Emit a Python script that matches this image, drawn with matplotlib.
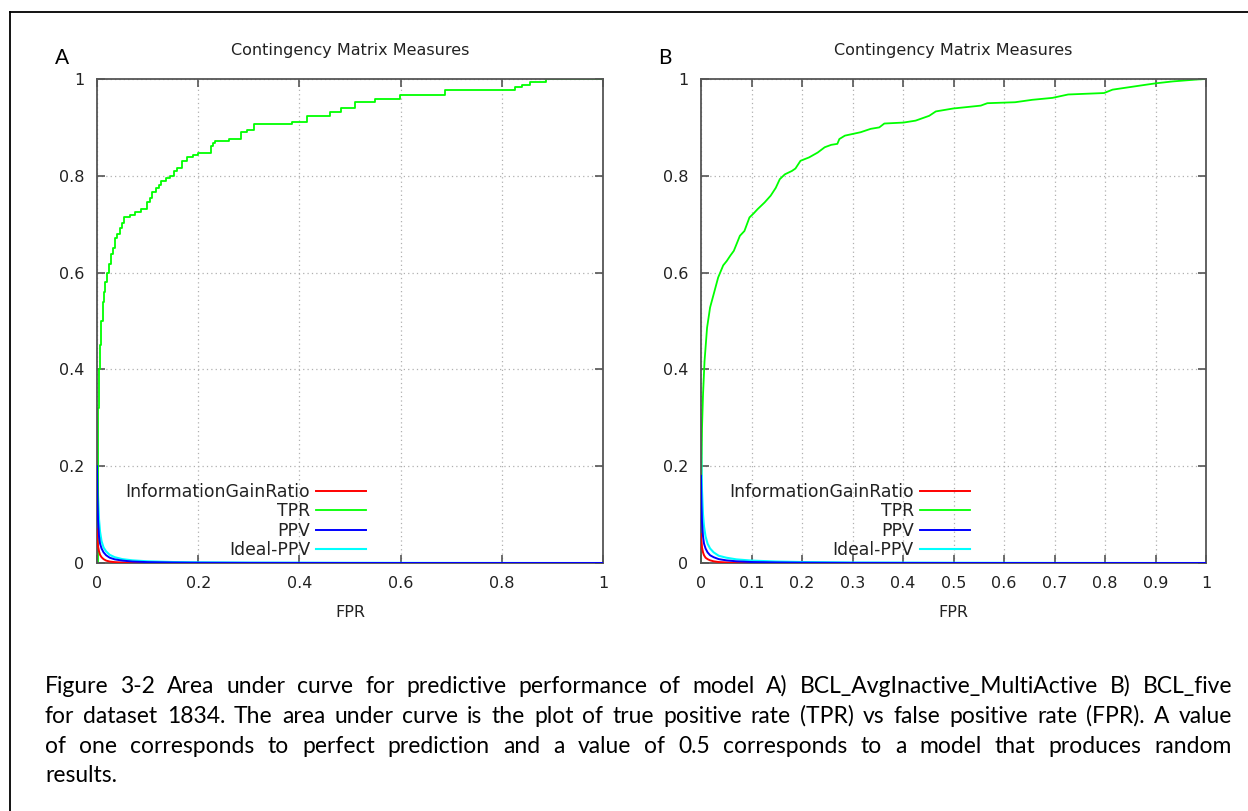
import matplotlib
matplotlib.use("Agg")
import matplotlib.pyplot as plt
from matplotlib.lines import Line2D
import numpy as np

# ---------------- data ----------------
panel_letters = ["A", "B"]
title_text = "Contingency Matrix Measures"
xlabel_text = "FPR"
series_names = ["InformationGainRatio", "TPR", "PPV", "Ideal-PPV"]
series_colors = ["#ff0000", "#00ff00", "#0000ff", "#00ffff"]

xticks_a = [0, 0.2, 0.4, 0.6, 0.8, 1]
xticklabels_a = ["0", "0.2", "0.4", "0.6", "0.8", "1"]
xticks_b = [0, 0.1, 0.2, 0.3, 0.4, 0.5, 0.6, 0.7, 0.8, 0.9, 1]
xticklabels_b = ["0", "0.1", "0.2", "0.3", "0.4", "0.5", "0.6", "0.7", "0.8", "0.9", "1"]
yticks = [0, 0.2, 0.4, 0.6, 0.8, 1]
yticklabels = ["0", "0.2", "0.4", "0.6", "0.8", "1"]

# Panel A TPR (step ROC) : (FPR, TPR)
tpr_a = [(0, 0), (0.001, 0.25), (0.002, 0.32), (0.004, 0.40), (0.006, 0.45),
         (0.0085, 0.50), (0.011, 0.54), (0.013, 0.56), (0.016, 0.58), (0.020, 0.60),
         (0.024, 0.617), (0.028, 0.638), (0.031, 0.650), (0.036, 0.672), (0.040, 0.680),
         (0.046, 0.693), (0.050, 0.703), (0.054, 0.714), (0.066, 0.719), (0.075, 0.726),
         (0.087, 0.731), (0.099, 0.745), (0.104, 0.755), (0.108, 0.766), (0.117, 0.774),
         (0.122, 0.782), (0.126, 0.790), (0.136, 0.795), (0.144, 0.800), (0.152, 0.810),
         (0.158, 0.817), (0.168, 0.831), (0.178, 0.838), (0.190, 0.843), (0.200, 0.848),
         (0.226, 0.862), (0.230, 0.868), (0.234, 0.872), (0.260, 0.877), (0.285, 0.890),
         (0.297, 0.895), (0.310, 0.906), (0.385, 0.912), (0.416, 0.924), (0.461, 0.931),
         (0.483, 0.941), (0.510, 0.952), (0.550, 0.959), (0.599, 0.966), (0.687, 0.977),
         (0.826, 0.983), (0.839, 0.988), (0.856, 0.994), (0.887, 1.0), (1.0, 1.0)]

# Panel B TPR : (FPR, TPR)
tpr_b = [(0, 0), (0.0, 0.15), (0.002, 0.279), (0.004, 0.348), (0.007, 0.417),
         (0.012, 0.486), (0.018, 0.528), (0.025, 0.555), (0.034, 0.590), (0.044, 0.615),
         (0.051, 0.624), (0.058, 0.635), (0.065, 0.645), (0.077, 0.676), (0.086, 0.686),
         (0.096, 0.714), (0.104, 0.722), (0.112, 0.731), (0.126, 0.745), (0.138, 0.759),
         (0.148, 0.775), (0.156, 0.793), (0.166, 0.803), (0.180, 0.810), (0.187, 0.815),
         (0.197, 0.831), (0.214, 0.838), (0.231, 0.848), (0.245, 0.859), (0.258, 0.864),
         (0.270, 0.866), (0.274, 0.876), (0.285, 0.883), (0.316, 0.890), (0.336, 0.897),
         (0.353, 0.900), (0.363, 0.908), (0.401, 0.910), (0.425, 0.914), (0.452, 0.924),
         (0.465, 0.933), (0.499, 0.939), (0.554, 0.945), (0.567, 0.950), (0.622, 0.952),
         (0.656, 0.957), (0.696, 0.961), (0.727, 0.968), (0.798, 0.971), (0.815, 0.978),
         (0.880, 0.988), (0.900, 0.991), (0.934, 0.995), (0.982, 0.999), (1.0, 1.0)]

# Low-valued curves, sampled at these FPR values
fpr_low = [0, 0.001, 0.002, 0.004, 0.006, 0.009, 0.013, 0.018, 0.025, 0.035,
           0.05, 0.07, 0.1, 0.15, 0.2, 0.3, 0.5, 0.7, 1.0]
igr_a = [0.07, 0.05, 0.035, 0.024, 0.017, 0.012, 0.008, 0.005, 0.003, 0.0018,
         0.001, 0.0005, 0.0002, 0.0001, 0, 0, 0, 0, 0]
ppv_a = [0.20, 0.13, 0.09, 0.055, 0.04, 0.03, 0.022, 0.016, 0.011, 0.0075,
         0.005, 0.003, 0.0018, 0.001, 0.0006, 0.0003, 0.0001, 0, 0]
ideal_a = [0.30, 0.20, 0.14, 0.09, 0.065, 0.045, 0.032, 0.024, 0.017, 0.012,
           0.008, 0.0055, 0.0035, 0.002, 0.0014, 0.0008, 0.0004, 0.0002, 0]
igr_b = [0.06, 0.045, 0.032, 0.022, 0.016, 0.011, 0.008, 0.0055, 0.0035, 0.002,
         0.0012, 0.0006, 0.0003, 0.0001, 0, 0, 0, 0, 0]
ppv_b = [0.18, 0.12, 0.085, 0.055, 0.04, 0.03, 0.022, 0.016, 0.012, 0.008,
         0.0055, 0.0035, 0.002, 0.0012, 0.0007, 0.0003, 0.0001, 0, 0]
ideal_b = [0.30, 0.21, 0.15, 0.10, 0.075, 0.055, 0.04, 0.03, 0.022, 0.015,
           0.011, 0.0075, 0.005, 0.003, 0.002, 0.001, 0.0005, 0.0002, 0]

caption_lines = [
    "Figure 3-2 Area under curve for predictive performance of model A)  BCL_AvgInactive_MultiActive B) BCL_five",
    "for dataset 1834. The area under curve is the plot of true positive rate (TPR) vs false positive rate (FPR). A value",
    "of one corresponds to perfect prediction and a value of 0.5 corresponds to a model that produces random",
    "results.",
]

# ---------------- figure ----------------
W, H = 1248, 811
fig = plt.figure(figsize=(W / 100, H / 100), dpi=100)
fig.patch.set_facecolor("white")

plot_font = ["DejaVu Sans"]
cap_font = ["Lato", "DejaVu Sans"]


def fx(px):
    return px / W


def fy(py):
    return 1 - py / H


ax_a = fig.add_axes([fx(97), fy(563), fx(506), 484 / H])
ax_b = fig.add_axes([fx(701), fy(563), fx(505), 484 / H])

panels = [
    (ax_a, tpr_a, "steps-post", igr_a, ppv_a, ideal_a, xticks_a, xticklabels_a),
    (ax_b, tpr_b, "default", igr_b, ppv_b, ideal_b, xticks_b, xticklabels_b),
]

for ax, tpr, ds, igr, ppv, ideal, xt, xtl in panels:
    tx = [p[0] for p in tpr]
    ty = [p[1] for p in tpr]
    ax.plot(fpr_low, igr, color=series_colors[0], lw=1.4, label=series_names[0], zorder=3)
    ax.plot(tx, ty, color=series_colors[1], lw=1.3, drawstyle=ds, label=series_names[1], zorder=2)
    ax.plot(fpr_low, ppv, color=series_colors[2], lw=1.4, label=series_names[2], zorder=4)
    ax.plot(fpr_low, ideal, color=series_colors[3], lw=1.5, label=series_names[3], zorder=1)
    ax.set_xlim(0, 1)
    ax.set_ylim(0, 1)
    ax.set_xticks(xt)
    ax.set_xticklabels(xtl, fontsize=11.5, family=plot_font)
    ax.set_yticks(yticks)
    ax.set_yticklabels(yticklabels, fontsize=11.5, family=plot_font)
    ax.tick_params(direction="in", length=6, width=1.2, color="#555555",
                   top=True, right=True, labelcolor="#222222")
    ax.tick_params(axis="x", pad=9.5)
    ax.tick_params(axis="y", pad=9)
    ax.grid(True, color="#b0b0b0", linestyle=(0, (1, 2.5)), linewidth=0.9)
    ax.set_axisbelow(True)
    for s in ax.spines.values():
        s.set_color("#555555")
        s.set_linewidth(1.3)
    ax.set_title(title_text, fontsize=11.5, family=plot_font, pad=17, color="#222222")
    ax.set_xlabel(xlabel_text, fontsize=11.5, family=plot_font, labelpad=10, color="#222222")
    handles, labels = ax.get_legend_handles_labels()
    order = [labels.index(n) for n in series_names]
    leg = ax.legend([handles[i] for i in order], [labels[i] for i in order],
                    loc="lower right", bbox_to_anchor=(0.532, 0.008),
                    frameon=False, markerfirst=False,
                    handlelength=2.9, handletextpad=0.35, labelspacing=0.08,
                    borderpad=0, borderaxespad=0, prop={"family": "DejaVu Sans", "size": 12.4})
    for t in leg.get_texts():
        t.set_color("#222222")

fig.text(fx(62), fy(58), panel_letters[0], fontsize=15, family=cap_font, ha="center", va="center")
fig.text(fx(665), fy(58), panel_letters[1], fontsize=15, family=cap_font, ha="center", va="center")

# outer border (left and top only visible)
fig.add_artist(Line2D([fx(9.5), fx(9.5)], [0, fy(11.5)], transform=fig.transFigure, color="black", lw=1.3))
fig.add_artist(Line2D([fx(9.5), 1], [fy(11.5), fy(11.5)], transform=fig.transFigure, color="black", lw=1.3))

# ---------------- justified caption ----------------
renderer = fig.canvas.get_renderer()
x_left, x_right = 45, 1232
line_base = [693, 723, 753, 782]
cap_size = 16.5
for i, line in enumerate(caption_lines):
    words = line.split()
    texts = [fig.text(0, fy(line_base[i]), w, fontsize=cap_size, family=cap_font,
                      ha="left", va="baseline", color="black") for w in words]
    widths = [t.get_window_extent(renderer).width for t in texts]
    last = (i == len(caption_lines) - 1)
    if last or len(words) == 1:
        sp = fig.text(0, 0, "a b", fontsize=cap_size, family=cap_font)
        sp2 = fig.text(0, 0, "ab", fontsize=cap_size, family=cap_font)
        gap = sp.get_window_extent(renderer).width - sp2.get_window_extent(renderer).width
        sp.remove()
        sp2.remove()
    else:
        gap = (x_right - x_left - sum(widths)) / (len(words) - 1)
    x = x_left
    for t, w in zip(texts, widths):
        t.set_x(fx(x))
        x += w + gap

fig.savefig("out.png", dpi=100, facecolor="white")
